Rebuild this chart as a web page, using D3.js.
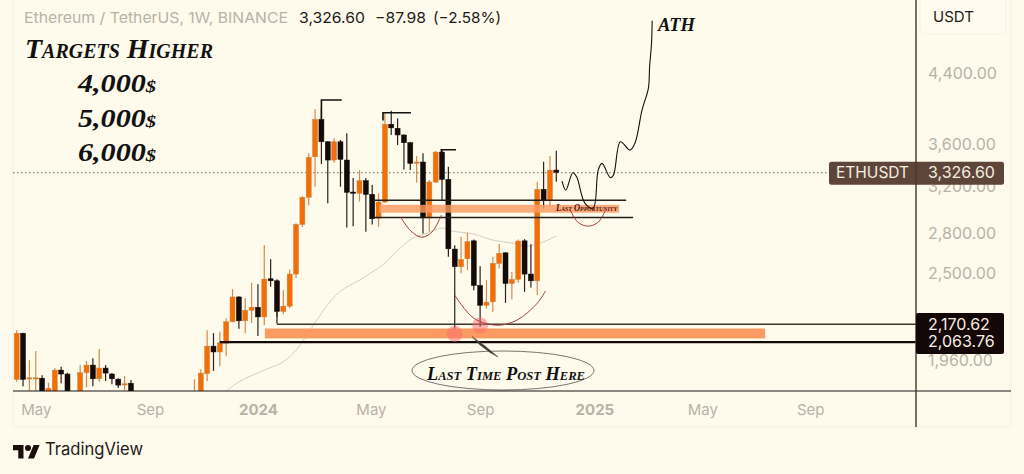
<!DOCTYPE html>
<html><head><meta charset="utf-8">
<script src="https://cdn.jsdelivr.net/npm/d3@7"></script>
<style>
html,body{margin:0;padding:0;background:#fefaec;overflow:hidden}
svg{display:block}
text{font-family:Inter,"Noto Sans",sans-serif}
.hand{font-family:"Liberation Serif",serif;font-weight:700;font-style:italic;fill:#111}
</style></head><body><svg id="c" width="1024" height="474"></svg>
<script>
// weekly candles: open, high, low, close
const opens=[1856,2113,1860,1860,1862,1790,1770,1905,1884,1770,1770,1891,1932,1859,1916,1884,1857,1829,1836,1650,1640,1600,1585,1610,1640,1650,1630,1570,1760,1760,1887,2038,2005,2054,2183,2341,2189,2255,2274,2213,2464,2450,2247,2281,2497,2872,3100,3475,3861,3625,3443,3625,3443,3146,3135,3248,3126,2923,3059,3808,3765,3695,3615,3417,3424,2925,3236,3521,3260,2679,2549,2607,2742,2418,2287,2309,2573,2651,2432,2460,2742,2497,2450,3170,3070,3347];
const highs=[2132,2116,1959,2011,1878,1838,1916,1923,1891,1785,1932,1954,1970,2021,1932,1889,1862,1873,1852,1680,1660,1625,1620,1650,1670,1665,1650,1600,1857,1910,2132,2114,2122,2205,2393,2345,2333,2436,2427,2708,2604,2460,2386,2530,2882,3110,3509,3975,3990,3633,3660,3643,3712,3272,3347,3272,3209,3135,3925,3956,3872,3700,3625,3482,3509,3254,3531,3541,3378,2708,2773,2805,2753,2553,2455,2621,2717,2655,2511,2753,2755,2715,3239,3427,3482,3534];
const lows=[1843,1820,1770,1790,1760,1770,1760,1836,1760,1740,1760,1815,1820,1843,1848,1831,1811,1800,1760,1620,1580,1570,1560,1590,1610,1600,1540,1520,1740,1750,1848,1901,1926,1981,2180,2140,2114,2175,2097,2162,2409,2214,2230,2268,2469,2852,3032,3194,3405,3048,3417,3194,2848,2858,3062,2813,2872,2852,3050,3695,3592,3353,3347,3230,2800,2813,3230,3076,2621,2112,2502,2525,2386,2152,2266,2244,2537,2302,2325,2436,2375,2405,2353,3004,3024,3239];
const closes=[2113,1856,1864,1864,1770,1810,1905,1884,1770,1750,1891,1932,1859,1916,1889,1859,1826,1833,1770,1640,1600,1585,1610,1640,1650,1630,1570,1590,1790,1889,2038,2005,2057,2183,2341,2189,2255,2274,2213,2462,2450,2247,2281,2497,2872,3100,3469,3861,3625,3443,3625,3450,3144,3142,3248,3126,2918,3059,3808,3770,3695,3615,3411,3424,2925,3236,3521,3260,2681,2549,2602,2735,2418,2287,2307,2573,2647,2432,2460,2740,2497,2450,3170,3070,3347,3326.6];
// moving average, read at selected weeks
const maWeeks=[33,35,39,42,44,46,48,50,51,54,56,58,60.4,62.4,64.6,67,68.7,72,75,78,80.4,82.5,85];
const maValues=[1795,1843,1905,1950,2015,2120,2236,2340,2380,2455,2511,2575,2686,2763,2802,2842,2818,2795,2748,2725,2701,2725,2779];
// hand drawn projection
const projWeeks=[85.9,86.5,87.6,88.2,89.5,90.8,91.6,92.2,93.5,94,95.1,96.6,97.4,98.5,99.5,99.7,100,100.1];
const projValues=[3245,3164,3322,3284,3050,3007,3347,3411,3277,3298,3625,3541,3612,3964,4214,4480,4784,5098];
// red arcs
const arc1Weeks=[60.5,62.1,63.8,65.4,66.9], arc1Values=[2931,2818,2770,2810,2948];
const arc2Weeks=[87.2,88.4,90,91.6,92.7], arc2Values=[2990,2890,2858,2890,2984];
const arc3Weeks=[69,72,75.7,78.8,82,83.3], arc3Values=[2353,2205,2162,2193,2300,2381];
// levels
const supportLevels=[2170.62,2063.76], supportStart=[41,32], supportWidth=[1.6,2.2], supportColor=["#3d342a","#110a06"];
const rangeValues=[3074,2929], rangeStart=[56.4,56.1], rangeEnd=[96,97.1];
const swingStart=[48,57.7,66.9], swingEnd=[51.2,62.1,69.2], swingValues=[4077,3934,3544], swingBase=[3861,3850,3500];
const hitWeeks=[69,73], hitValues=[2110,2160];
// axis labels
const priceTicks=[4400,3600,3200,2800,2500,1960];
const timeWeeks=[3,21,38,55.8,73,91,108,125];
const timeLabels=["May","Sep","2024","May","Sep","2025","May","Sep"];
const targets=["4,000","5,000","6,000"];

const BG="#fefaec",UP="#f36f05",UPW="#d48a4c",DN="#140a08",DNW="#2b211a",BAND="#fd9a62",MUTED="#b8b3a8",INK="#1f1b18";
const L=13,R=916,PR=1011,T=0,B=391,PB=427;
const svg=d3.select("#c");
const x=d3.scaleLinear().domain([0,85]).range([16.7,556.3]);
const y=d3.scaleLog().domain([1960,4400]).range([360,73]);

svg.append("defs").append("clipPath").attr("id","plot").append("rect").attr("x",L).attr("y",T).attr("width",R-L).attr("height",B-T);
// frame
svg.append("path").attr("d",`M${L} 0V${PB}H${PR}V0`).attr("fill","none").attr("stroke","#f5f0e2").attr("stroke-width",1);
svg.append("rect").attr("x",920).attr("y",-4).attr("width",86).attr("height",38).attr("rx",5).attr("fill","#fffbef").attr("stroke","#f6f1e3");

const plot=svg.append("g").attr("clip-path","url(#plot)");
const line=d3.line().x(d=>x(d[0])).y(d=>y(d[1])).curve(d3.curveCatmullRom.alpha(.5));
plot.append("path").datum(d3.zip(maWeeks,maValues)).attr("d",line).attr("fill","none").attr("stroke","#d5cfc0").attr("stroke-width",1);
plot.append("line").attr("x1",L).attr("x2",829).attr("y1",y(3326.6)+.5).attr("y2",y(3326.6)+.5).attr("stroke","#6b625a").attr("stroke-width",1).attr("stroke-dasharray","1.5 2.5");

const idx=d3.range(opens.length);
const col=i=>closes[i]>=opens[i];
plot.selectAll(".w").data(idx).join("line").attr("x1",x).attr("x2",x).attr("y1",i=>y(highs[i])).attr("y2",i=>y(lows[i]))
  .attr("stroke",i=>col(i)?UPW:DNW).attr("stroke-width",1.2);
plot.selectAll(".b").data(idx).join("rect").attr("x",i=>x(i)-2.5).attr("width",5)
  .attr("y",i=>y(Math.max(opens[i],closes[i]))).attr("height",i=>Math.max(1.2,Math.abs(y(opens[i])-y(closes[i]))))
  .attr("fill",i=>col(i)?UP:DN).attr("stroke",i=>col(i)?"#c98345":DN).attr("stroke-width",.5);

// zones
plot.append("rect").attr("x",x(57.1)).attr("width",x(94.9)-x(57.1)).attr("y",y(3035)).attr("height",y(2968)-y(3035)).attr("fill",BAND).attr("opacity",.82);
plot.append("rect").attr("x",x(39.1)).attr("width",x(117.9)-x(39.1)).attr("y",y(2142)).attr("height",y(2083)-y(2142)).attr("fill",BAND);
// range lines
rangeValues.forEach((v,k)=>plot.append("line").attr("x1",x(rangeStart[k])).attr("x2",x(rangeEnd[k])).attr("y1",y(v)).attr("y2",y(v)).attr("stroke","#241c16").attr("stroke-width",1.4));
// swing highs
swingValues.forEach((v,k)=>plot.append("path").attr("d",`M${x(swingStart[k])} ${y(swingBase[k])}V${y(v)}H${x(swingEnd[k])}`).attr("fill","none").attr("stroke","#15100c").attr("stroke-width",1.6));
// support
supportLevels.forEach((v,k)=>plot.append("line").attr("x1",x(supportStart[k])).attr("x2",R).attr("y1",y(v)+.5).attr("y2",y(v)+.5).attr("stroke",supportColor[k]).attr("stroke-width",supportWidth[k]));
plot.append("line").attr("x1",x(41)).attr("x2",x(41)).attr("y1",y(2247)).attr("y2",y(2170.62)).attr("stroke",supportColor[0]).attr("stroke-width",1.4);
// touches
plot.selectAll(".hit").data(d3.zip(hitWeeks,hitValues)).join("circle").attr("cx",d=>x(d[0])).attr("cy",d=>y(d[1])).attr("r",8).attr("fill","#f76a6a").attr("opacity",.5);
// arcs
[[arc1Weeks,arc1Values],[arc2Weeks,arc2Values],[arc3Weeks,arc3Values]].forEach(a=>
  plot.append("path").datum(d3.zip(a[0],a[1])).attr("d",line).attr("fill","none").attr("stroke","#a4403f").attr("stroke-width",1));
// projection
svg.append("path").datum(d3.zip(projWeeks,projValues)).attr("d",line).attr("fill","none").attr("stroke","#15100c").attr("stroke-width",1.1);

// callout
svg.append("ellipse").attr("cx",503).attr("cy",370.5).attr("rx",91).attr("ry",19.5).attr("fill","none").attr("stroke","#6a665e").attr("stroke-width",.9);
svg.append("path").attr("d","M472 336.5L485 346L498 357L490 352.5L480 345Z").attr("fill","#3b3833").attr("stroke","#55524c").attr("stroke-width",.6);

// price axis
const yAxis=d3.axisRight(y).tickValues(priceTicks).tickFormat(d3.format(",.2f")).tickSize(0).tickPadding(12);
const ya=svg.append("g").attr("transform",`translate(${R},0)`).call(yAxis);
ya.select(".domain").remove();
ya.selectAll("text").attr("fill",MUTED).attr("font-size",16).style("font-family","Inter,'Noto Sans',sans-serif");
// time axis
const xAxis=d3.axisBottom(x).tickValues(timeWeeks).tickFormat((d,i)=>timeLabels[i]).tickSize(0).tickPadding(13);
const xa=svg.append("g").attr("transform",`translate(0,${B})`).call(xAxis);
xa.select(".domain").remove();
xa.selectAll("text").attr("fill",MUTED).attr("font-size",15).style("font-family","Inter,'Noto Sans',sans-serif")
  .attr("font-weight",(d,i)=>/^20/.test(timeLabels[i])?700:400);

svg.append("line").attr("x1",L).attr("x2",PR).attr("y1",B).attr("y2",B).attr("stroke","#1d1712").attr("stroke-width",1.1);
svg.append("line").attr("x1",R).attr("x2",R).attr("y1",0).attr("y2",PB).attr("stroke","#4a4034").attr("stroke-width",1.5);

// price tags
svg.append("rect").attr("x",829).attr("y",y(3326.6)-10.5).attr("width",175).attr("height",23).attr("rx",2.5).attr("fill","#5d4639");
svg.append("line").attr("x1",R).attr("x2",R).attr("y1",y(3326.6)-10.5).attr("y2",y(3326.6)+12.5).attr("stroke","#4a382e").attr("stroke-width",1.5);
svg.append("rect").attr("x",916).attr("y",313).attr("width",88).attr("height",41).attr("rx",2).attr("fill","#130707");
const tag=(tx,ty,s)=>svg.append("text").attr("x",tx).attr("y",ty).attr("dy","0.36em").attr("fill","#f6eee2").attr("font-size",16).text(s);
tag(836,y(3326.6),"ETHUSDT").attr("font-size",15.5);
tag(928,y(3326.6),d3.format(",.2f")(3326.6));
supportLevels.forEach(v=>tag(928,y(v),d3.format(",.2f")(v)));
svg.append("text").attr("x",933).attr("y",17).attr("dy","0.36em").attr("fill",INK).attr("font-size",15).text("USDT");

// header
const head=(tx,len,fill,s)=>svg.append("text").attr("x",tx).attr("y",18).attr("dy","0.36em").attr("fill",fill).attr("font-size",15).attr("textLength",len).attr("lengthAdjust","spacingAndGlyphs").text(s);
head(24,264,MUTED,"Ethereum / TetherUS, 1W, BINANCE");
head(299,66,INK,"3,326.60");
head(375,51,INK,"\u221287.98");
head(433,68,INK,"(\u22122.58%)");

// hand written notes
const hand=(tx,ty,size,len,s)=>svg.append("text").attr("class","hand").attr("x",tx).attr("y",ty).attr("font-size",size)
  .attr("textLength",len).attr("lengthAdjust","spacingAndGlyphs").style("font-variant","small-caps").text(s);
hand(25,58,28,188,"Targets Higher");
targets.forEach((s,i)=>{const t=hand(78,[92,127,161][i],25,78,s);t.append("tspan").attr("font-size",17).text("$");});
hand(658,31,19,37,"ATH");
hand(427,380,19,158,"Last Time Post Here");
hand(556,211,10,61,"Last Opportunity").style("fill","#4a120c");

// footer
const logo=svg.append("g").attr("transform","translate(13,442) scale(0.75)").attr("fill","#1a0f0c");
logo.append("path").attr("d","M14 22H7V11H0V4h14v18zM28 22h-8l7.5-18h8L28 22z");
logo.append("circle").attr("cx",20).attr("cy",8).attr("r",4);
svg.append("text").attr("x",45).attr("y",449).attr("dy","0.36em").attr("fill",INK).attr("font-size",17).attr("textLength",98).attr("lengthAdjust","spacingAndGlyphs").text("TradingView");
</script></body></html>
